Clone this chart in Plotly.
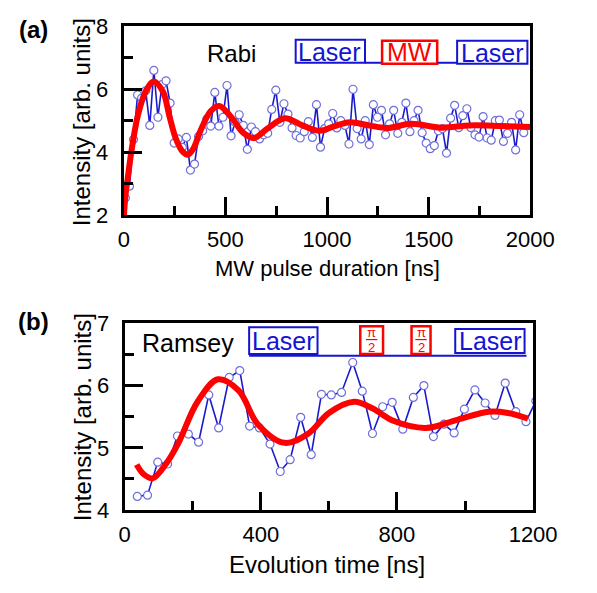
import plotly.graph_objects as go

W, H = 597, 593
FONT = "Liberation Sans, Arial, sans-serif"

# ---------------- data: panel (a) Rabi ----------------
rabi_t = [8, 28, 48, 68, 88, 108, 128, 148, 168, 188, 208, 228, 248, 268, 288, 308, 328, 348,
          368, 388, 408, 428, 448, 468, 488, 508, 528, 548, 568, 588, 608, 628, 648, 668, 688,
          708, 728, 748, 768, 788, 808, 828, 848, 868, 888, 908, 928, 948, 968, 988, 1008, 1028,
          1048, 1068, 1088, 1108, 1128, 1148, 1168, 1188, 1208, 1228, 1248, 1268, 1288, 1308,
          1328, 1348, 1368, 1388, 1408, 1428, 1448, 1468, 1488, 1508, 1528, 1548, 1568, 1588,
          1608, 1628, 1648, 1668, 1688, 1708, 1728, 1748, 1768, 1788, 1808, 1828, 1848, 1868,
          1888, 1908, 1928, 1948, 1968]
rabi_I = [2.54, 2.92, 4.40, 5.82, 5.72, 5.95, 4.85, 6.60, 5.11, 6.15, 6.27, 5.56, 4.29, 4.42,
          4.15, 4.47, 3.43, 3.62, 4.50, 4.68, 5.05, 4.83, 5.90, 4.83, 5.11, 6.12, 4.52, 4.95,
          5.19, 4.85, 4.09, 4.80, 4.65, 4.42, 4.55, 4.60, 5.36, 5.97, 4.95, 5.54, 5.21, 4.77,
          4.53, 4.45, 4.65, 4.97, 4.47, 5.51, 4.16, 4.75, 4.90, 5.23, 4.77, 5.00, 4.85, 4.26,
          6.00, 4.75, 4.42, 5.00, 4.24, 5.51, 5.11, 5.33, 4.55, 4.90, 5.33, 4.60, 4.95, 5.56,
          4.65, 5.00, 5.33, 4.62, 4.29, 4.11, 4.21, 4.68, 4.75, 3.97, 5.08, 5.49, 4.78, 5.16,
          5.38, 4.78, 4.55, 4.48, 5.13, 4.45, 4.38, 5.00, 5.02, 4.34, 4.60, 4.95, 4.07, 5.19,
          4.62]
rabi_fit_t = [0, 8, 20, 37, 69, 107, 148, 193, 224, 255, 287, 315, 341, 380, 427, 470, 533,
              587, 642, 707, 793, 879, 964, 1034, 1112, 1206, 1299, 1414, 1562, 1702, 1858, 2000]
rabi_fit_I = [1.9, 2.6, 3.2, 4.0, 5.16, 5.92, 6.25, 5.92, 5.16, 4.45, 4.04, 3.92, 4.1, 4.72,
              5.3, 5.47, 5.08, 4.62, 4.45, 4.75, 5.08, 4.85, 4.68, 4.82, 4.95, 4.85, 4.77, 4.9,
              4.78, 4.85, 4.83, 4.80]

# ---------------- data: panel (b) Ramsey ----------------
ram_t = [37, 67, 97, 126, 155, 187, 217, 247, 276, 307, 338, 367, 396, 427, 457, 486, 517, 548,
         578, 607, 637, 670, 698, 728, 758, 786, 817, 848, 879, 907, 938, 968, 998, 1029, 1059,
         1088, 1118, 1149, 1179, 1208]
ram_I = [4.22, 4.24, 4.77, 4.74, 5.19, 5.22, 5.09, 5.85, 5.32, 6.13, 6.24, 5.35, 5.32, 5.06,
         4.62, 4.81, 5.49, 4.89, 5.86, 5.85, 5.89, 6.37, 5.91, 5.23, 5.66, 5.73, 5.30, 5.81,
         6.00, 5.18, 5.38, 5.24, 5.62, 5.93, 5.72, 5.52, 6.04, 5.58, 5.42, 5.75]
ram_fit_t = [35, 55, 82, 121, 158, 214, 274, 335, 391, 470, 540, 600, 674, 726, 791, 884, 977,
             1070, 1126, 1185]
ram_fit_I = [4.73, 4.58, 4.51, 4.74, 5.08, 5.74, 6.10, 5.92, 5.38, 5.08, 5.23, 5.56, 5.74, 5.64,
             5.43, 5.32, 5.45, 5.58, 5.56, 5.47]

# ticks
a_xticks = [0, 500, 1000, 1500, 2000]
a_yticks = [2, 4, 6, 8]
b_xticks = [0, 400, 800, 1200]
b_yticks = [4, 5, 6, 7]

BLUE_LINE = "#1a1acc"
BLUE_MARK = "#6f6fdc"
RED = "#ff0000"
BOX_BLUE = "#1414d2"


def px(x):
    return x / W


def py(y):
    return 1 - y / H


fig = go.Figure()

for xs, ys, xa, ya in [(rabi_t, rabi_I, "x", "y"), (ram_t, ram_I, "x2", "y2")]:
    fig.add_trace(go.Scatter(
        x=xs, y=ys, xaxis=xa, yaxis=ya, mode="lines+markers",
        line=dict(color=BLUE_LINE, width=1.6),
        marker=dict(symbol="circle", size=8, color="white",
                    line=dict(color=BLUE_MARK, width=1.2)),
        showlegend=False))

for xs, ys, xa, ya in [(rabi_fit_t, rabi_fit_I, "x", "y"), (ram_fit_t, ram_fit_I, "x2", "y2")]:
    fig.add_trace(go.Scatter(
        x=xs, y=ys, xaxis=xa, yaxis=ya, mode="lines",
        line=dict(color=RED, width=6, shape="spline", smoothing=1.0),
        showlegend=False))

TICKFONT = dict(family=FONT, size=22, color="black")


def axis(domain, rng, tickvals, dtick_minor, anchor, standoff):
    return dict(
        domain=domain, range=rng, anchor=anchor,
        tickvals=tickvals, ticktext=[str(v) for v in tickvals],
        ticks="inside", ticklen=18, tickwidth=3, tickcolor="black",
        minor=dict(dtick=dtick_minor, ticks="inside", ticklen=9, tickwidth=3,
                   tickcolor="black", tick0=0),
        showline=True, linewidth=3, linecolor="black", mirror=True,
        showgrid=False, zeroline=False, tickfont=TICKFONT, fixedrange=True,
        ticklabelstandoff=standoff)


fig.update_layout(
    width=W, height=H, margin=dict(l=0, r=0, t=0, b=0),
    paper_bgcolor="white", plot_bgcolor="white",
    xaxis=axis([px(124), px(552)], [0, 2000], a_xticks, 250, "y", 3),
    yaxis=axis([py(212), py(15)], [2, 8], a_yticks, 1, "x", 8),
    xaxis2=axis([px(125), px(555)], [0, 1200], b_xticks, 200, "y2", 3),
    yaxis2=axis([py(520), py(325)], [4, 7], b_yticks, 0.5, "x2", 8),
)

shapes = []
ann = []


def rect(x0, y0, x1, y1, color, w=2):
    shapes.append(dict(type="rect", xref="paper", yref="paper",
                       x0=px(x0), x1=px(x1), y0=py(y1), y1=py(y0),
                       line=dict(color=color, width=w), fillcolor="rgba(0,0,0,0)"))


def hline(x0, x1, y, color, w=2):
    shapes.append(dict(type="line", xref="paper", yref="paper",
                       x0=px(x0), x1=px(x1), y0=py(y), y1=py(y),
                       line=dict(color=color, width=w)))


def text(x, y, s, size=22, color="black", bold=False, angle=0):
    ann.append(dict(xref="paper", yref="paper", x=px(x), y=py(y), text=("<b>%s</b>" % s) if bold else s,
                    showarrow=False, xanchor="center", yanchor="middle", textangle=angle,
                    font=dict(family=FONT, size=size, color=color)))


# panel (a) pulse sequence
rect(305, 29, 378, 53, BOX_BLUE)
hline(378, 396, 53, BOX_BLUE)
rect(396, 30, 454, 54, RED, 2.5)
hline(454, 475, 53, BOX_BLUE)
rect(475, 30, 549, 54, BOX_BLUE)
text(341, 42, "Laser", 25, BOX_BLUE)
text(425, 42, "MW", 25, RED)
text(512, 43, "Laser", 25, BOX_BLUE)
text(237, 43, "Rabi", 24)

# panel (b) pulse sequence
rect(256, 329, 328, 357, BOX_BLUE)
hline(256, 548, 359, BOX_BLUE)
rect(373, 328, 397, 357, RED, 2.5)
rect(427, 328, 447, 357, RED, 2.5)
rect(473, 331, 546, 356, BOX_BLUE)
for cx in (385, 437):
    text(cx, 335, "π", 13, RED)
    hline(cx - 6, cx + 6, 342, RED, 1.2)
    text(cx, 350, "2", 13, RED)
text(292, 343, "Laser", 25, BOX_BLUE)
text(510, 344, "Laser", 25, BOX_BLUE)
text(192, 346, "Ramsey", 25)

# axis titles and panel labels
text(79, 115, "Intensity [arb. units]", 24, angle=-90)
text(338, 268, "MW pulse duration [ns]", 22)
text(80, 423, "Intensity [arb. units]", 24, angle=-90)
text(338, 577, "Evolution time [ns]", 24)
text(29, 18, "(a)", 24, bold=True)
text(29, 323, "(b)", 24, bold=True)

fig.update_layout(shapes=shapes, annotations=ann)
fig.write_html("out.html")
